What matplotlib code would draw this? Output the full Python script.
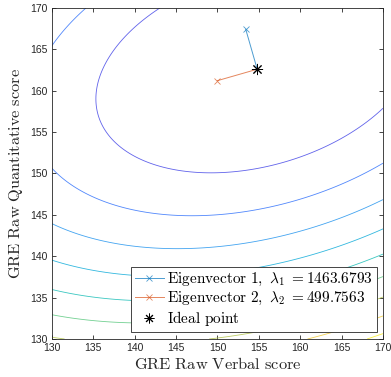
import numpy as np
import matplotlib
matplotlib.use('Agg')
import matplotlib.pyplot as plt
from matplotlib.colors import LinearSegmentedColormap
from matplotlib.lines import Line2D

# ── Data ─────────────────────────────────────────────────────────────────────
ideal_point = [154.8, 162.6]            # (verbal, quantitative)
eigvals = [1463.6793, 499.7563]
eigvec1 = [-0.276, 0.961]
eigvec2 = [-0.961, -0.276]
vec_scale = 5.0
contour_levels = [2e5, 4e5, 6e5, 8e5, 10e5, 12e5, 14e5, 16e5, 18e5]
x_range = [130, 170]
y_range = [130, 170]
ticks = [130, 135, 140, 145, 150, 155, 160, 165, 170]

# old-style parula approximation
PARULA = LinearSegmentedColormap.from_list('parula', [
    (0.00, (0.2422, 0.1504, 0.6603)),
    (0.10, (0.2760, 0.2700, 0.9000)),
    (0.20, (0.2000, 0.4300, 0.9900)),
    (0.30, (0.1500, 0.5600, 0.9500)),
    (0.40, (0.0700, 0.6500, 0.8800)),
    (0.50, (0.0200, 0.7200, 0.7800)),
    (0.60, (0.2200, 0.7800, 0.6000)),
    (0.70, (0.5300, 0.7900, 0.3600)),
    (0.80, (0.8500, 0.7500, 0.2200)),
    (0.90, (0.9900, 0.8100, 0.2000)),
    (1.00, (0.9769, 0.9839, 0.0805)),
])
BLUE = '#0072BD'
ORANGE = '#D95319'
AX_GREY = (0.15, 0.15, 0.15)

plt.rcParams['mathtext.fontset'] = 'cm'
plt.rcParams['font.family'] = ['Liberation Sans', 'DejaVu Sans']

# quadratic surface around the ideal point
v1 = np.array(eigvec1) / np.linalg.norm(eigvec1)
v2 = np.array(eigvec2) / np.linalg.norm(eigvec2)
H = eigvals[0] * np.outer(v1, v1) + eigvals[1] * np.outer(v2, v2)
xs = np.linspace(x_range[0], x_range[1], 300)
ys = np.linspace(y_range[0], y_range[1], 300)
X, Y = np.meshgrid(xs, ys)
DX, DY = X - ideal_point[0], Y - ideal_point[1]
Z = H[0, 0] * DX**2 + 2 * H[0, 1] * DX * DY + H[1, 1] * DY**2

fig = plt.figure(figsize=(3.91, 3.77), dpi=100)
ax = fig.add_axes([0.133, 0.1008, 0.8465, 0.878])

ax.contour(X, Y, Z, levels=contour_levels, cmap=PARULA,
           vmin=Z.min(), vmax=Z.max(), linewidths=0.6, alpha=0.85)

p1 = np.array(ideal_point) + vec_scale * v1
p2 = np.array(ideal_point) + vec_scale * v2
ax.plot([ideal_point[0], p1[0]], [ideal_point[1], p1[1]], color=BLUE,
        lw=0.7, marker='x', markevery=[1], ms=5, mew=0.6, alpha=0.7)
ax.plot([ideal_point[0], p2[0]], [ideal_point[1], p2[1]], color=ORANGE,
        lw=0.7, marker='x', markevery=[1], ms=5, mew=0.6, alpha=0.7)
ax.plot([ideal_point[0]], [ideal_point[1]], ls='none', marker=(8, 2, 0),
        ms=8, mew=0.7, color='k')

ax.set_xlim(x_range)
ax.set_ylim(y_range)
ax.set_xticks(ticks)
ax.set_yticks(ticks)
ax.tick_params(direction='in', top=True, right=True, length=3, width=0.6,
               labelsize=7.5, colors=AX_GREY, pad=3)
for s in ax.spines.values():
    s.set_color(AX_GREY)
    s.set_linewidth(0.6)

ax.set_xlabel(r'$\mathrm{GRE\ Raw\ Verbal\ score}$', fontsize=11.8,
              color=AX_GREY, labelpad=2)
ax.set_ylabel(r'$\mathrm{GRE\ Raw\ Quantitative\ score}$', fontsize=11.8,
              color=AX_GREY, labelpad=4)

handles = [
    Line2D([], [], color=BLUE, lw=0.7, marker='x', ms=4, mew=0.6, alpha=0.7),
    Line2D([], [], color=ORANGE, lw=0.7, marker='x', ms=4, mew=0.6, alpha=0.7),
    Line2D([], [], color='k', ls='none', marker=(8, 2, 0), ms=7, mew=0.7),
]
labels = [
    r'$\mathrm{Eigenvector\ 1,}\ \lambda_1\ \mathrm{=%.4f}$' % eigvals[0],
    r'$\mathrm{Eigenvector\ 2,}\ \lambda_2\ \mathrm{=%.4f}$' % eigvals[1],
    r'$\mathrm{Ideal\ point}$',
]
leg = ax.legend(handles, labels, loc='lower right', numpoints=1,
                bbox_to_anchor=(0.982, 0.021), fontsize=11, fancybox=False,
                framealpha=1, edgecolor=AX_GREY, handlelength=1.9,
                handletextpad=0.25, borderpad=0.25, labelspacing=0.12,
                borderaxespad=0)
leg.get_frame().set_linewidth(0.6)

fig.savefig('out.png', dpi=100)
